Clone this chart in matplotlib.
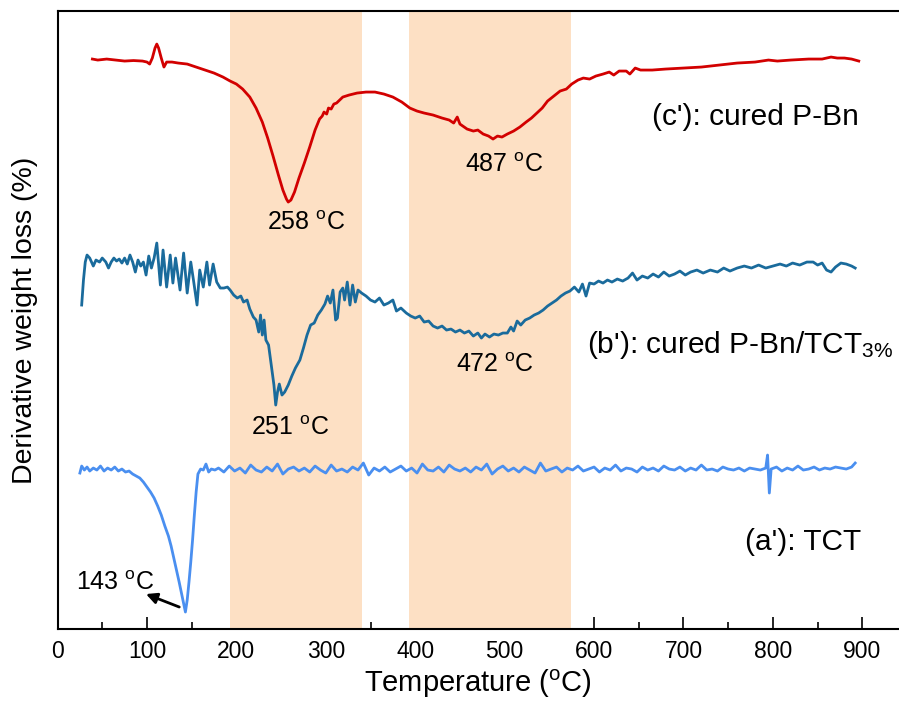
import numpy as np
import matplotlib
matplotlib.use('Agg')
import matplotlib.pyplot as plt

plt.rcParams['font.family'] = ['Liberation Sans', 'DejaVu Sans']
plt.rcParams['mathtext.fontset'] = 'custom'
plt.rcParams['mathtext.rm'] = 'Liberation Sans'
plt.rcParams['mathtext.default'] = 'regular'

# (c') cured P-Bn  (arbitrary offset units)
x_c = [39, 45, 55, 65, 75, 85, 95, 100, 103, 106, 109, 111, 113, 116, 119, 122, 128, 135, 145,
       155, 165, 175, 185, 193, 200, 207, 215, 222, 229, 235, 241, 247, 252, 256, 258, 261, 265,
       270, 276, 282, 288, 293, 296, 298, 301, 303, 306, 309, 312, 319, 326, 335, 345, 355, 365,
       375, 385, 394, 402, 410, 420, 430, 438, 443, 447, 450, 458, 465, 470, 476, 482, 487, 492,
       497, 503, 510, 517, 524, 530, 536, 542, 548, 555, 562, 569, 575, 582, 588, 595, 602, 610,
       617, 622, 628, 636, 640, 646, 652, 665, 680, 700, 720, 740, 760, 780, 795, 805, 820, 840,
       855, 865, 872, 880, 888, 896]
y_c = [641, 640, 641, 640, 639, 639.5, 639, 638, 636, 642, 652, 656, 652, 642, 633, 638, 638, 637,
       636, 633, 630, 627, 623, 619, 616, 611, 603, 592, 578, 562, 544, 525, 510, 501, 498, 500,
       508, 522, 537, 553, 570, 581, 584, 588, 586, 592, 591, 596, 597, 603, 605, 607, 608, 608,
       606, 603, 598, 592, 589, 587, 585, 582, 580, 577, 583, 576, 571, 569, 570, 566, 564, 561,
       564, 563, 566, 569, 573, 578, 582, 587, 592, 599, 604, 609, 611, 616, 620, 622, 621, 624,
       626, 628, 625, 629, 629, 626, 632, 630, 630, 631, 632, 633, 635, 637, 638, 640, 639, 640,
       641, 641, 643, 642, 642, 641, 639]

# (b') cured P-Bn/TCT3%
x_b = [27, 29, 31, 33, 36, 40, 43, 47, 50, 54, 57, 60, 63, 66, 69, 72, 75, 78, 81, 84, 87, 90, 93,
       96, 99, 102, 105, 108, 111, 115, 118, 122, 126, 129, 132, 137, 141, 145, 149, 152, 156, 159,
       163, 167, 170, 174, 178, 182, 186, 190, 193, 197, 201, 205, 208, 212, 215, 219, 222, 225,
       227, 229, 231, 233, 236, 239, 242, 244, 246, 248, 251, 254, 258, 262, 266, 271, 275, 279,
       283, 287, 291, 295, 299, 302, 305, 308, 311, 313, 316, 319, 321, 324, 327, 330, 333, 336,
       340, 345, 350, 355, 360, 365, 370, 375, 379, 384, 390, 395, 400, 405, 410, 415, 420, 425,
       430, 435, 440, 445, 450, 455, 460, 465, 470, 474, 478, 483, 488, 493, 498, 503, 507, 510,
       514, 518, 523, 528, 533, 538, 543, 548, 553, 558, 563, 568, 573, 578, 583, 587, 591, 595,
       600, 605, 610, 615, 620, 626, 632, 638, 643, 648, 654, 660, 666, 672, 678, 684, 690, 696,
       702, 708, 715, 722, 730, 738, 745, 752, 760, 768, 776, 784, 792, 800, 808, 815, 822, 830,
       838, 845, 850, 855, 860, 865, 870, 876, 882, 888, 892]
y_b = [395, 420, 438, 445, 442, 434, 440, 438, 442, 438, 432, 438, 442, 439, 441, 437, 442, 436,
       445, 438, 428, 440, 434, 438, 425, 444, 432, 442, 457, 415, 450, 413, 445, 417, 442, 410,
       447, 407, 438, 420, 395, 430, 413, 438, 415, 436, 418, 412, 412, 413, 410, 405, 402, 404,
       398, 400, 391, 383, 380, 368, 385, 365, 380, 360, 355, 335, 315, 295, 308, 316, 305, 308,
       315, 324, 332, 340, 352, 365, 375, 377, 385, 390, 396, 404, 397, 410, 380, 382, 408, 412,
       400, 418, 395, 415, 398, 410, 407, 404, 400, 398, 402, 395, 397, 400, 389, 392, 387, 384,
       382, 384, 378, 379, 374, 372, 374, 370, 371, 368, 370, 367, 369, 364, 367, 362, 366, 363,
       366, 365, 367, 367, 373, 369, 379, 375, 380, 382, 385, 387, 390, 394, 397, 400, 404, 407,
       409, 413, 408, 416, 404, 417, 416, 419, 417, 420, 418, 421, 419, 422, 427, 420, 424, 422,
       426, 423, 428, 424, 426, 429, 425, 428, 430, 427, 430, 428, 432, 429, 432, 434, 432, 435,
       432, 434, 436, 434, 437, 435, 438, 438, 435, 437, 430, 428, 433, 437, 436, 434, 432]

# (a') TCT
x_a = [25, 27, 30, 33, 36, 40, 44, 48, 52, 56, 60, 64, 68, 72, 76, 80, 84, 88, 92, 96, 100, 104,
       108, 112, 116, 120, 124, 127, 130, 133, 136, 139, 141, 143, 145, 147, 149, 151, 153, 155,
       157, 160, 163, 166, 169, 172, 176,
       180, 186, 192, 198, 204, 210, 216, 222, 228, 234, 240, 246,
       252, 258, 264, 270, 276, 282, 288, 294, 300, 306, 312, 318,
       324, 330, 336, 342, 348, 354, 360, 366, 372, 378, 384, 390,
       396, 402, 408, 414, 420, 426, 432, 438, 444, 450, 456, 462,
       468, 474, 480, 486, 492, 498, 504, 510, 516, 522, 528, 534,
       540, 546, 552, 558, 564, 570, 576, 582, 588, 594, 600, 606,
       612, 618, 624, 630, 636, 642, 648, 654, 660, 666, 672, 678,
       684, 690, 696, 702, 708, 714, 720, 726, 732, 738, 744, 750,
       756, 762, 768, 774, 780, 786, 792, 794, 796, 798, 804, 810,
       816, 822, 828, 834, 840, 846, 852, 858, 864, 870, 876, 882,
       888, 892]
y_a = [227, 234, 230, 233, 229, 232, 230, 234, 229, 232, 230, 233, 229, 231, 228, 229, 226, 224,
       222, 218, 213, 208, 202, 194, 185, 174, 164, 154, 142, 130, 118, 105, 96, 88, 100, 118,
       138, 160, 185, 208, 226, 231, 230, 236, 228, 231, 230,
       232, 228, 234, 229, 232, 227, 235, 230, 228, 233, 229, 236,
       226, 231, 233, 229, 232, 228, 234, 230, 227, 235, 229, 231,
       228, 233, 230, 237, 225, 232, 229, 233, 228, 231, 234, 229,
       232, 227, 236, 230, 229, 233, 228, 235, 231, 229, 232, 228,
       233, 230, 236, 226, 231, 234, 229, 232, 228, 233, 230, 227,
       237, 229, 231, 233, 228, 232, 230, 234, 229, 231, 233, 228,
       232, 230, 235, 229, 232, 231, 228, 233, 230, 232, 229, 234,
       231, 230, 233, 229, 232, 230, 235, 230, 231, 229, 233, 231,
       230, 232, 229, 232, 231, 230, 232, 245, 207, 231, 233, 229,
       232, 230, 234, 230, 231, 233, 230, 232, 231, 233, 232, 231,
       233, 237]

spans = [(193, 340), (393, 574)]

fig = plt.figure(figsize=(8.99, 7.04), dpi=100)
ax = fig.add_axes([0.064, 0.1065, 0.936, 0.8778])
ax.set_axisbelow(True)  # shaded bands hide the ticks, as in the original

for lo, hi in spans:
    ax.axvspan(lo, hi, color='#FDE0C4', lw=0, zorder=1)

ax.plot(x_c, y_c, color='#D20000', lw=2.0, zorder=3)
ax.plot(x_b, y_b, color='#1A6B9C', lw=2.0, zorder=3)
ax.plot(x_a, y_a, color='#4A8FF0', lw=2.0, zorder=3)

ax.set_xlim(0, 941)
ax.set_ylim(71, 689)
ax.set_xticks(range(0, 1000, 100))
ax.set_xticks(range(50, 950, 100), minor=True)
ax.set_yticks([])
ax.tick_params(axis='x', which='major', direction='in', length=9, width=1.2,
               labelsize=16.5, pad=8)
ax.tick_params(axis='x', which='minor', direction='in', length=5, width=1.2)
ax.spines['right'].set_visible(False)
for s in ['left', 'bottom', 'top']:
    ax.spines[s].set_linewidth(1.5)
    ax.spines[s].set_zorder(4)

ax.set_xlabel('Temperature ($^{o}$C)', fontsize=21, labelpad=3)
ax.set_ylabel('Derivative weight loss (%)', fontsize=20.5, labelpad=14)

ann = 18
ax.text(278.5, 470, '258 $^{o}$C', fontsize=ann, ha='center', va='baseline', zorder=4)
ax.text(499, 528, '487 $^{o}$C', fontsize=ann, ha='center', va='baseline', zorder=4)
ax.text(260, 265, '251 $^{o}$C', fontsize=ann, ha='center', va='baseline', zorder=4)
ax.text(489, 328, '472 $^{o}$C', fontsize=ann, ha='center', va='baseline', zorder=4)
ax.text(64, 110, '143 $^{o}$C', fontsize=ann, ha='center', va='baseline', zorder=4)
ax.annotate('', xy=(96, 107), xytext=(139, 92),
            arrowprops=dict(arrowstyle='-|>', color='black', lw=2, mutation_scale=16),
            zorder=4)

lab = 21.5
ax.text(665, 575, "(c'): cured P-Bn", fontsize=lab, ha='left', va='baseline')
ax.text(592, 347, "(b'): cured P-Bn/TCT$_{3\\%}$", fontsize=lab, ha='left', va='baseline')
ax.text(769, 150, "(a'): TCT", fontsize=lab, ha='left', va='baseline')

fig.savefig('out.png', dpi=100)
